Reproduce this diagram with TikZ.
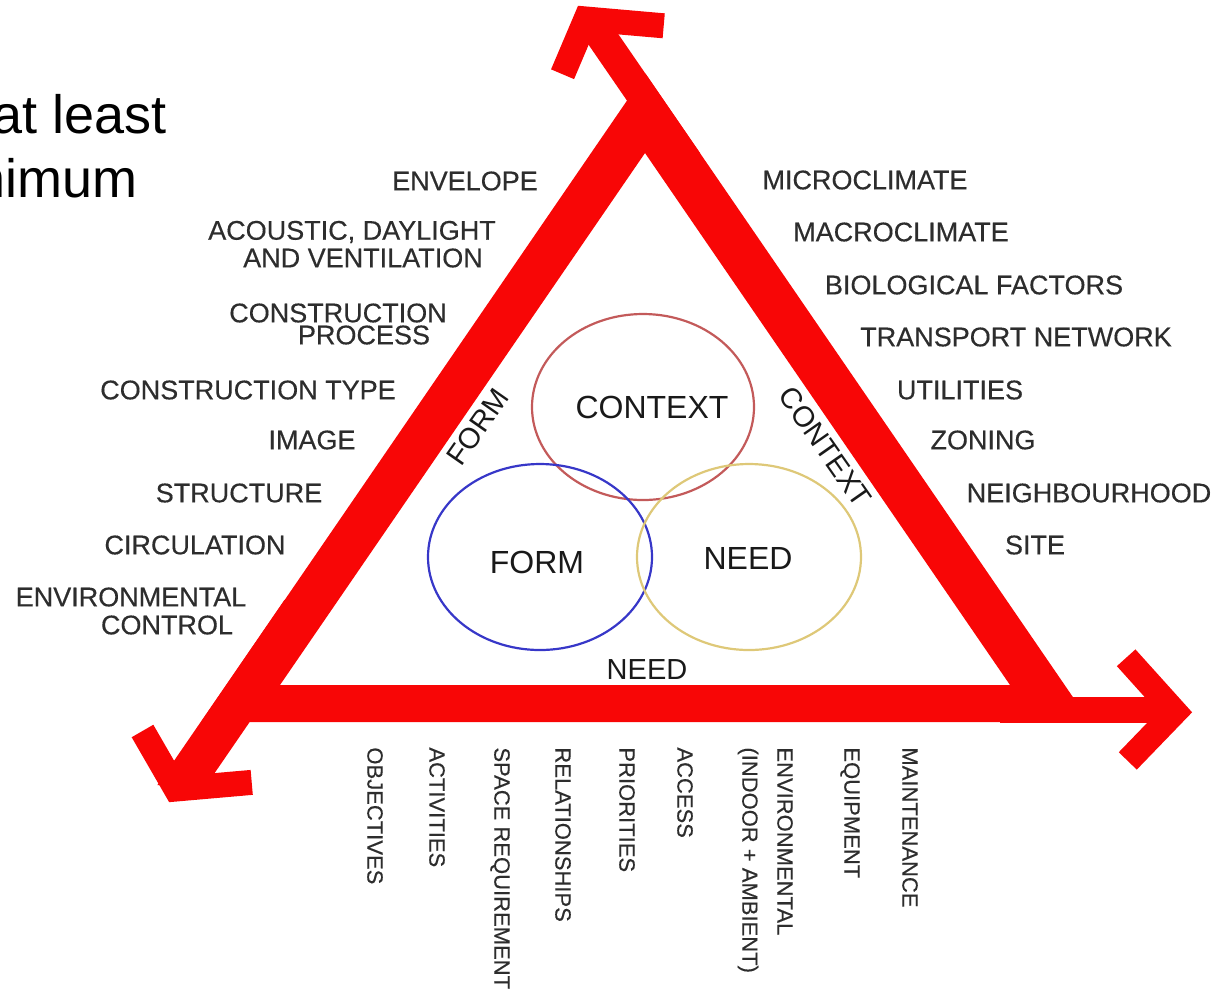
\documentclass[tikz,border=0pt]{standalone}
\usepackage{fontspec}
\setmainfont{Liberation Sans}
\newfontfamily\factorfont[FakeBold=0.35]{Liberation Sans}
\usetikzlibrary{calc}
\definecolor{trired}{RGB}{248,6,6}
\definecolor{labelgrey}{RGB}{45,45,45}
\definecolor{contextring}{RGB}{195,90,90}
\definecolor{formring}{RGB}{55,55,200}
\definecolor{needring}{RGB}{222,200,120}
\newcommand{\drawchevron}[5]{
  \draw[chevron] ([shift={(#2:#3)}]#1) -- (#1) -- ([shift={(#4:#5)}]#1);
}

\begin{document}
\begin{tikzpicture}[x=0.5pt, y=-0.5pt,
  band/.style={fill=trired},
  chevron/.style={draw=trired, line width=12.5pt, line join=miter, line cap=butt},
  factor/.style={font=\factorfont\fontsize{13.5}{15}\selectfont, text=labelgrey, inner sep=0pt},
  needfactor/.style={font=\factorfont\fontsize{11}{13}\selectfont, text=labelgrey, inner sep=0pt,
    rotate=-90, anchor=west},
  ring/.style={line width=1.1pt},
  ringtext/.style={font=\fontsize{16}{18}\selectfont, text=black!90, inner sep=0pt},
  sidetext/.style={font=\fontsize{14.5}{16}\selectfont, text=black!90, inner sep=0pt},
  slide/.style={font=\fontsize{27}{32}\selectfont, inner sep=0pt, anchor=base east}]
  \useasboundingbox (0,0) rectangle (1215,993);
  \clip (0,0) rectangle (1215,993);
  \node[slide] (atleast) at (167,133) {at least};
  \node[slide] (nimum) at (138,197) {nimum};

  \fill[band, even odd rule] (645.5,73.6) -- (201,722) -- (1090,722) -- cycle
    (645,153) -- (280,685) -- (1010,685) -- cycle;
  \fill[band] (663,153) -- (700,153) -- (612,25) -- (575,25) -- cycle;
  \fill[band] (284.4,600) -- (333.4,600) -- (206.4,785) -- (157.4,785) -- cycle;
  \fill[band] (1000,697) rectangle (1175,723);
  \drawchevron{586,19}{5}{78}{113}{60}
  \drawchevron{1175,712}{228}{73}{134}{68}
  \drawchevron{176,789}{240}{67}{355}{76}

  \draw[ring, draw=contextring] (643,407) ellipse [x radius=55.5pt, y radius=46.5pt];
  \draw[ring, draw=formring] (540,557) ellipse [x radius=56pt, y radius=46.5pt];
  \draw[ring, draw=needring] (749,557) ellipse [x radius=56pt, y radius=46.5pt];
  \node[ringtext] (context) at (652,407) {CONTEXT};
  \node[ringtext] (form) at (537,562) {FORM};
  \node[ringtext] (need) at (748,558) {NEED};

  \node[sidetext, rotate=55] (formside) at (478,427) {FORM};
  \node[sidetext, rotate=-55] (contextside) at (825,447) {CONTEXT};
  \node[sidetext] (needside) at (647,670) {NEED};

  \foreach \x/\y/\txt [count=\i] in {465/181/ENVELOPE, 352/232/{ACOUSTIC, DAYLIGHT},
      363/258/AND VENTILATION, 338/313/CONSTRUCTION, 364/335/PROCESS,
      248/390/CONSTRUCTION TYPE, 312/440/IMAGE, 239/493/STRUCTURE,
      195/545/CIRCULATION, 131/597/ENVIRONMENTAL, 167/625/CONTROL}
    \node[factor] (form\i) at (\x,\y) {\txt};
  \foreach \x/\y/\txt [count=\i] in {865/180/MICROCLIMATE, 901/232/MACROCLIMATE,
      974/285/BIOLOGICAL FACTORS, 1016/337/TRANSPORT NETWORK, 960/390/UTILITIES,
      983/440/ZONING, 1089/493/NEIGHBOURHOOD, 1035/545/SITE}
    \node[factor] (context\i) at (\x,\y) {\txt};
  \foreach \x/\txt [count=\i] in {375/OBJECTIVES, 437/ACTIVITIES, 500/SPACE REQUIREMENT,
      563/RELATIONSHIPS, 627/PRIORITIES, 685/ACCESS, 785/ENVIRONMENTAL,
      748/(INDOOR + AMBIENT), 850/EQUIPMENT, 910/MAINTENANCE}
    \node[needfactor] (need\i) at (\x,747) {\txt};
\end{tikzpicture}
\end{document}
